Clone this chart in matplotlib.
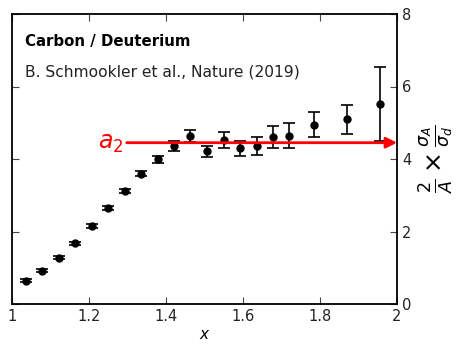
import numpy as np
import matplotlib
matplotlib.use("Agg")
import matplotlib.pyplot as plt

# Schmookler et al. (2019) carbon / deuterium ratio
x_vals = [1.036, 1.079, 1.121, 1.164, 1.207, 1.249, 1.293, 1.336, 1.379,
          1.420, 1.463, 1.506, 1.550, 1.593, 1.636, 1.678, 1.720, 1.785,
          1.870, 1.956]
ratio = [0.64, 0.92, 1.28, 1.68, 2.15, 2.64, 3.12, 3.60, 3.99,
         4.36, 4.64, 4.21, 4.52, 4.29, 4.37, 4.61, 4.64, 4.95,
         5.10, 5.53]
ratio_err = [0.04, 0.04, 0.04, 0.04, 0.05, 0.05, 0.06, 0.07, 0.09,
             0.14, 0.17, 0.15, 0.22, 0.22, 0.25, 0.30, 0.35, 0.34,
             0.40, 1.02]
a2_value = 4.45
a2_start = 1.298

plt.rcParams['font.family'] = 'DejaVu Sans'
plt.rcParams['mathtext.fontset'] = 'dejavusans'

fig = plt.figure(figsize=(4.73, 3.49), dpi=100)
ax = fig.add_axes([12/473, 45/349, 385/473, 290/349])

ax.errorbar(x_vals, ratio, yerr=ratio_err, fmt='o', color='black',
            markersize=5, capsize=4.5, elinewidth=1.2, capthick=1.2)

ax.annotate('', xy=(2.0, a2_value), xytext=(a2_start, a2_value),
            arrowprops=dict(arrowstyle='-|>', color='red', lw=2,
                            mutation_scale=16, shrinkA=0, shrinkB=0))
ax.text(a2_start - 0.008, a2_value, r'$a_2$', color='red', fontsize=17,
        ha='right', va='center')

ax.text(0.035, 0.905, 'Carbon / Deuterium', transform=ax.transAxes,
        fontsize=10.8, fontweight='bold', va='center')
ax.text(0.035, 0.80, 'B. Schmookler et al., Nature (2019)',
        transform=ax.transAxes, fontsize=11.2, va='center', color='#222222')

ax.set_xlim(1, 2)
ax.set_ylim(0, 8)
ax.set_xticks([1, 1.2, 1.4, 1.6, 1.8, 2])
ax.set_xticklabels(['1', '1.2', '1.4', '1.6', '1.8', '2'])
ax.set_yticks([0, 2, 4, 6, 8])
ax.tick_params(direction='in', top=True, right=True, left=True,
               labelleft=False, labelright=True, labelsize=10.5,
               length=5, color='#444444', labelcolor='#222222')
ax.set_xlabel(r'$x$', fontsize=11, labelpad=2)
ax.yaxis.set_label_position('right')
ax.set_ylabel(r'$\frac{2}{A}\times\frac{\sigma_A}{\sigma_d}$', fontsize=18,
              labelpad=4)
for s in ax.spines.values():
    s.set_linewidth(1.3)

fig.savefig('out.png', dpi=100)
